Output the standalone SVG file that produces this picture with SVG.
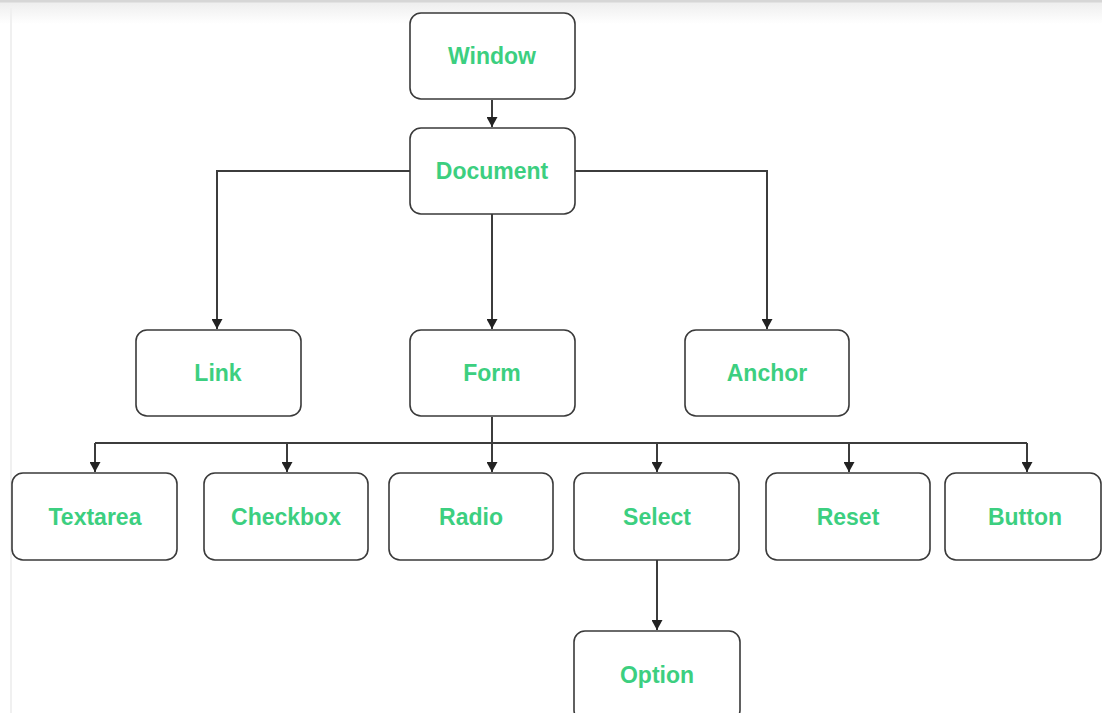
<svg xmlns="http://www.w3.org/2000/svg" width="1102" height="713" viewBox="0 0 1102 713">
<defs>
<linearGradient id="topshade" x1="0" y1="0" x2="0" y2="1">
<stop offset="0" stop-color="#ececec"/>
<stop offset="1" stop-color="#ffffff"/>
</linearGradient>
<marker id="arr" markerUnits="userSpaceOnUse" markerWidth="10" markerHeight="11" viewBox="0 0 10 11" refX="10" refY="5.5" orient="auto">
<path d="M0,0 L10,5.5 L0,11 Z" fill="#222"/>
</marker>
<style>
.box{fill:#fff;stroke:#3a3a3a;stroke-width:1.6}
.lbl{font-family:"Liberation Sans",Arial,sans-serif;font-size:23px;font-weight:bold;fill:#3ccf80;text-anchor:middle}
.con{fill:none;stroke:#3c3c3c;stroke-width:2}
</style>
</defs>
<rect x="0" y="0" width="1102" height="713" fill="#fff"/>
<rect x="0" y="0" width="1102" height="24" fill="url(#topshade)"/>
<rect x="0" y="0" width="1102" height="2.5" fill="#d6d6d6"/>
<line x1="11" y1="8" x2="11" y2="713" stroke="#f0f0f0" stroke-width="2"/>

<g id="connectors">
<path class="con" d="M492,100 L492,127" marker-end="url(#arr)"/>
<path class="con" d="M410,171 L217,171 L217,329" marker-end="url(#arr)"/>
<path class="con" d="M575,171 L767,171 L767,329" marker-end="url(#arr)"/>
<path class="con" d="M492,214 L492,329" marker-end="url(#arr)"/>
<path class="con" d="M492,417 L492,443"/>
<path class="con" d="M95,443 L1027,443" stroke-width="3"/>
<path class="con" d="M95,443 L95,472" marker-end="url(#arr)"/>
<path class="con" d="M287,443 L287,472" marker-end="url(#arr)"/>
<path class="con" d="M492,443 L492,472" marker-end="url(#arr)"/>
<path class="con" d="M657,443 L657,472" marker-end="url(#arr)"/>
<path class="con" d="M849,443 L849,472" marker-end="url(#arr)"/>
<path class="con" d="M1027,443 L1027,472" marker-end="url(#arr)"/>
<path class="con" d="M657,560 L657,630" marker-end="url(#arr)"/>
</g>

<g id="window"><rect class="box" x="410" y="13" width="165" height="86" rx="11"/><text class="lbl" x="492" y="64">Window</text></g>
<g id="document"><rect class="box" x="410" y="128" width="165" height="86" rx="11"/><text class="lbl" x="492" y="179">Document</text></g>
<g id="link"><rect class="box" x="136" y="330" width="165" height="86" rx="11"/><text class="lbl" x="218" y="381">Link</text></g>
<g id="form"><rect class="box" x="410" y="330" width="165" height="86" rx="11"/><text class="lbl" x="492" y="381">Form</text></g>
<g id="anchor"><rect class="box" x="685" y="330" width="164" height="86" rx="11"/><text class="lbl" x="767" y="381">Anchor</text></g>
<g id="textarea"><rect class="box" x="12" y="473" width="165" height="87" rx="11"/><text class="lbl" x="95" y="525">Textarea</text></g>
<g id="checkbox"><rect class="box" x="204" y="473" width="164" height="87" rx="11"/><text class="lbl" x="286" y="525">Checkbox</text></g>
<g id="radio"><rect class="box" x="389" y="473" width="164" height="87" rx="11"/><text class="lbl" x="471" y="525">Radio</text></g>
<g id="select"><rect class="box" x="574" y="473" width="165" height="87" rx="11"/><text class="lbl" x="657" y="525">Select</text></g>
<g id="reset"><rect class="box" x="766" y="473" width="164" height="87" rx="11"/><text class="lbl" x="848" y="525">Reset</text></g>
<g id="button"><rect class="box" x="945" y="473" width="156" height="87" rx="11"/><text class="lbl" x="1025" y="525">Button</text></g>
<g id="option"><rect class="box" x="574" y="631" width="166" height="90" rx="11"/><text class="lbl" x="657" y="683">Option</text></g>
</svg>
